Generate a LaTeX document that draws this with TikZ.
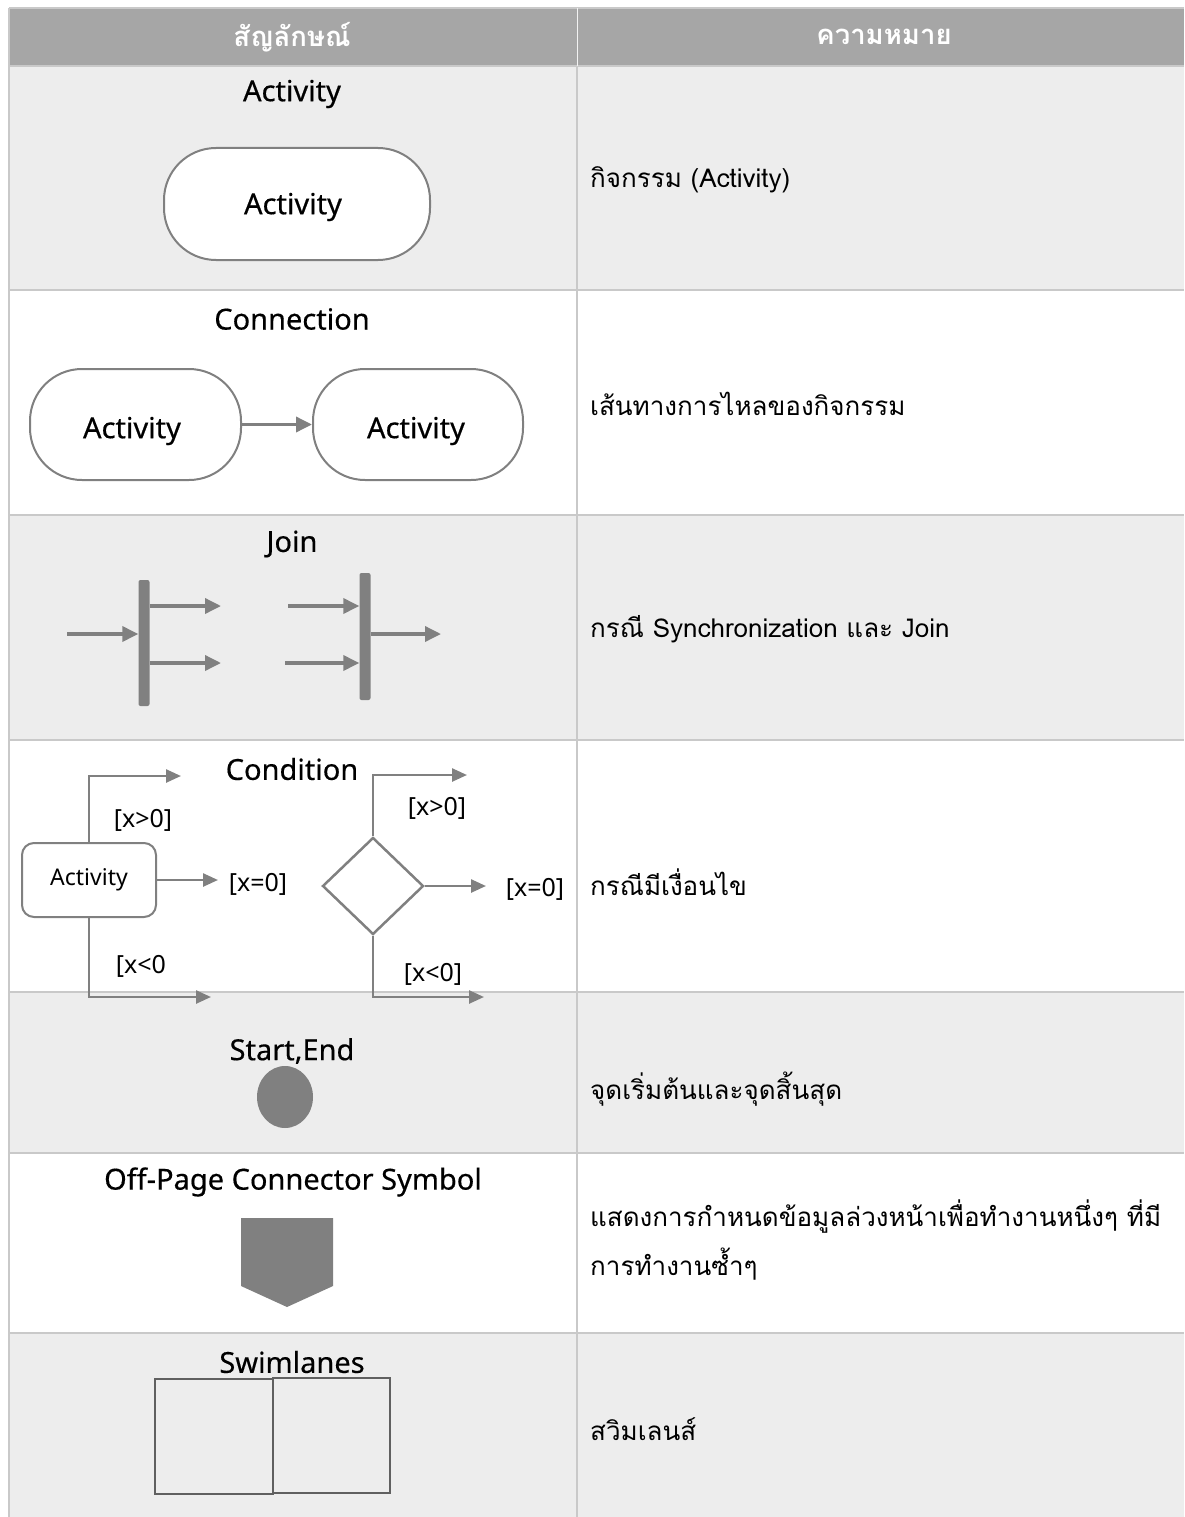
\documentclass[tikz,border=0pt]{standalone}
\usepackage{fontspec}
\setmainfont{Noto Sans}
\newfontfamily\thaifont[Script=Thai]{Loma}
\newfontfamily\titlefont[FakeBold=0.4]{Noto Sans}
\usetikzlibrary{arrows.meta,shapes.geometric}
\definecolor{hdr}{HTML}{A6A6A6}
\definecolor{rowg}{HTML}{EDEDED}
\definecolor{grid}{HTML}{C9C9C9}
\definecolor{shp}{HTML}{808080}
\definecolor{lane}{HTML}{606060}
\tikzset{
  title/.style={font=\titlefont\fontsize{29}{32}\selectfont, text=black, inner sep=0pt},
  meaning/.style={font=\thaifont\fontsize{26}{32}\selectfont, text=black, anchor=west, inner sep=0pt},
  hdrtext/.style={font=\thaifont\bfseries\fontsize{27.5}{30}\selectfont, text=white, inner sep=0pt},
  bigact/.style={draw=shp, line width=2pt, fill=white, rounded corners=52pt, inner sep=0pt},
  acttext/.style={font=\titlefont\fontsize{29}{32}\selectfont, text=black, inner sep=0pt},
  smallact/.style={draw=shp, line width=2pt, fill=white, rounded corners=12pt, font=\fontsize{23}{26}\selectfont, inner sep=0pt, minimum width=134pt, minimum height=74pt},
  jbar/.style={fill=shp, rounded corners=2pt, minimum width=11pt, minimum height=126pt, inner sep=0pt},
  arr/.style={draw=shp, line width=3.5pt, -{Triangle[length=16pt,width=15pt]}},
  carr/.style={draw=shp, line width=2.5pt, -{Triangle[length=15pt,width=13pt]}},
  clabel/.style={font=\fontsize{25}{28}\selectfont, text=black, inner sep=0pt},
  lanebox/.style={draw=lane, line width=2.2pt, inner sep=0pt}
}
\begin{document}
\begin{tikzpicture}[x=1pt,y=-1pt]
\useasboundingbox (0,0) rectangle (1184,1517);
\fill[white] (0,0) rectangle (1184,1517);
% table backgrounds
\fill[hdr] (9,8) rectangle (1184,66);
\fill[rowg] (9,66) rectangle (1184,290);
\fill[rowg] (9,515) rectangle (1184,740);
\fill[rowg] (9,992) rectangle (1184,1153);
\fill[rowg] (9,1333) rectangle (1184,1517);
% grid lines
\foreach \yy in {8,66,290,515,740,992,1153,1333}
  \draw[grid, line width=2pt] (9,\yy) -- (1184,\yy);
\draw[grid, line width=2pt] (9,8) -- (9,1517);
\draw[grid, line width=2pt] (577,66) -- (577,1517);
\draw[white!85!hdr, line width=1pt] (577,8) -- (577,66);
% header
\node[hdrtext] (h1) at (292,37) {สัญลักษณ์};
\node[hdrtext] (h2) at (884,37) {ความหมาย};
% row 1: Activity
\node[title] (t1) at (292,94) {Activity};
\node[bigact, minimum width=266pt, minimum height=112pt] (act) at (297,204) {};
\node[acttext] (act-t) at (293,207) {Activity};
\node[meaning] (m1) at (590,180) {กิจกรรม (Activity)};
% row 2: Connection
\node[title] (t2) at (292,319) {Connection};
\node[bigact, minimum width=211pt, minimum height=111pt] (ca1) at (135.5,424.5) {};
\node[bigact, minimum width=210pt, minimum height=111pt] (ca2) at (418,424.5) {};
\node[acttext] (ca1-t) at (132,431) {Activity};
\node[acttext] (ca2-t) at (416,431) {Activity};
\draw[arr] (ca1.east) -- (ca2.west);
\node[meaning] (m2) at (590,404) {เส้นทางการไหลของกิจกรรม};
% row 3: Join
\node[title] (t3) at (292,544) {Join};
\node[jbar] (b1) at (144,643) {};
\node[jbar, minimum height=127pt] (b2) at (365,636.5) {};
\coordinate (j1in) at (67,634);
\coordinate (j1o1) at (221,606);
\coordinate (j1o2) at (221,663);
\coordinate (j2i1) at (288,606);
\coordinate (j2i2) at (285,663);
\coordinate (j2out) at (441,634);
\draw[arr] (j1in) -- (j1in -| b1.west);
\draw[arr] (j1o1 -| b1.east) -- (j1o1);
\draw[arr] (j1o2 -| b1.east) -- (j1o2);
\draw[arr] (j2i1) -- (j2i1 -| b2.west);
\draw[arr] (j2i2) -- (j2i2 -| b2.west);
\draw[arr] (j2out -| b2.east) -- (j2out);
\node[meaning] (m3) at (590,629) {กรณี Synchronization และ Join};
% row 4: Condition
\node[title] (t4) at (292,769) {Condition};
\node[smallact] (cact) at (89,880) {Activity};
\coordinate (c1) at (181,776);
\coordinate (c2) at (218,880);
\coordinate (c3) at (211,997);
\draw[carr] (cact.north) |- (c1);
\draw[carr] (cact.east) -- (c2);
\draw[carr] (cact.south) |- (c3);
\node[clabel] (l1) at (143,820) {[x>0]};
\node[clabel] (l2) at (258,884) {[x=0]};
\node[clabel] (l3) at (141,966) {[x<0};
\node[draw=shp, line width=2.5pt, diamond, minimum width=101pt, minimum height=97pt, inner sep=0pt] (dm) at (373,886) {};
\coordinate (d1) at (467,775);
\coordinate (d2) at (486,886);
\coordinate (d3) at (484,997);
\draw[carr] (dm.north) |- (d1);
\draw[carr] (dm.east) -- (d2);
\draw[carr] (dm.south) |- (d3);
\node[clabel] (l4) at (437,808) {[x>0]};
\node[clabel] (l5) at (535,889) {[x=0]};
\node[clabel] (l6) at (433,974) {[x<0]};
\node[meaning] (m4) at (590,882) {กรณีมีเงื่อนไข};
% row 5: Start,End
\node[title] (t5) at (292,1051) {Start,End};
\node[ellipse, fill=shp, minimum width=56pt, minimum height=62pt, inner sep=0pt] (se) at (285,1097) {};
\node[meaning] (m5) at (590,1089) {จุดเริ่มต้นและจุดสิ้นสุด};
% row 6: Off-page connector
\node[title] (t6) at (293,1182) {Off-Page Connector Symbol};
\fill[shp] (241,1218) -- (333,1218) -- (333,1286) -- (287,1307) -- (241,1286) -- cycle;
\node[meaning] (m6a) at (590,1217) {แสดงการกำหนดข้อมูลล่วงหน้าเพื่อทำงานหนึ่งๆ ที่มี};
\node[meaning] (m6b) at (590,1264) {การทำงานซ้ำๆ};
% row 7: Swimlanes
\node[title] (t7) at (292,1362) {Swimlanes};
\node[lanebox, minimum width=118pt, minimum height=115pt] (sw1) at (214,1436.5) {};
\node[lanebox, minimum width=117pt, minimum height=115pt] (sw2) at (331.5,1435.5) {};
\node[meaning] (m7) at (590,1429) {สวิมเลนส์};
\end{tikzpicture}
\end{document}
